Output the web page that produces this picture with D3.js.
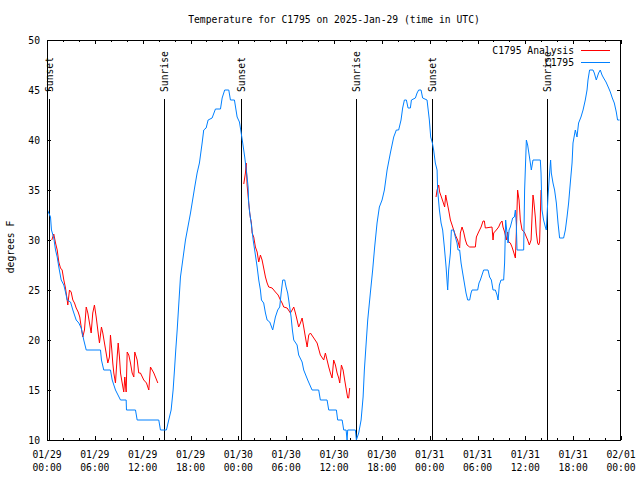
<!DOCTYPE html>
<html><head><meta charset="utf-8">
<script src="https://cdn.jsdelivr.net/npm/d3@7"></script>
<style>
html,body{margin:0;padding:0;background:#fff;}
svg{display:block;}
text{font-family:"DejaVu Sans Mono","Liberation Mono",monospace;font-size:9.7px;fill:#000;}
</style></head>
<body><svg id="c" width="640" height="480"></svg>
<script>
// Hours since 2025-01-29 00:00 UTC, temperature in degrees F
const obsHours = [0.06,0.44,0.56,0.85,1.07,1.28,1.48,1.78,2.11,2.32,2.53,2.95,3.24,3.66,3.99,4.29,4.61,4.92,6.71,6.83,7.12,7.96,8.18,8.59,9.22,9.93,9.97,11.1,11.31,14.02,14.23,14.98,15.27,15.57,15.82,15.99,16.15,16.33,16.74,17.37,18.0,18.53,18.83,19.12,19.46,19.66,19.96,20.21,20.71,21.13,21.76,21.97,22.29,22.8,23.01,23.51,23.85,24.14,24.3,24.55,24.8,25.1,25.23,25.3,25.43,25.64,25.86,26.14,26.36,26.56,26.77,26.9,27.18,27.4,27.61,27.94,28.31,28.65,28.94,29.19,29.37,29.57,29.82,29.99,30.19,30.32,30.62,30.78,30.95,31.37,31.57,32.0,32.2,32.7,33.25,34.08,34.29,35.13,35.34,36.3,36.46,37.02,37.22,37.52,37.64,37.72,38.68,38.81,39.1,39.4,39.65,39.81,40.06,40.23,40.56,40.85,41.1,41.4,41.69,42.03,42.32,42.66,43.07,43.49,43.82,44.11,44.41,44.61,44.83,45.08,45.29,45.58,45.71,46.21,46.42,46.62,46.92,47.12,47.67,47.96,48.13,48.34,48.5,48.71,48.93,49.0,49.22,49.43,49.63,49.84,50.06,50.26,50.38,50.6,50.72,51.01,51.22,51.43,51.56,51.76,51.94,52.14,52.35,52.56,52.77,53.02,53.19,53.32,54.02,54.19,54.36,54.77,55.32,55.52,55.74,55.95,56.24,56.45,56.58,56.74,56.95,57.28,57.4,57.53,57.7,57.83,57.96,58.12,58.41,58.62,58.75,58.87,58.96,59.79,59.91,60.13,60.29,60.63,60.75,60.96,61.88,61.97,62.09,62.29,62.51,62.63,62.76,62.84,63.01,63.17,63.26,63.47,63.67,63.89,64.1,64.3,64.8,65.02,65.23,65.43,65.64,65.86,65.98,66.27,66.48,66.68,66.98,67.24,67.52,67.74,67.86,68.06,68.49,68.65,68.9,69.19,69.4,69.62,69.82,70.12,70.45,70.66,70.91,71.16,71.41,71.57,71.82];
const obsTemps = [33,32.3,31,30.2,29,28.3,27.3,26,25.5,24.8,24,23.8,23,22,21.7,21.2,20,19,19,18,17,17,16,15,14,14,13,13,12,12,11,11,12,13,15,17,19,21,26.3,30,32.7,35.3,36.7,37.7,39.7,41,41.2,42,42.2,43.1,43.1,44.2,45,45,44,44,42.3,41.8,41,39.7,38.3,36.3,35.3,33.7,32.7,31.5,30,28.5,27.3,26,25,24,23.7,22.7,22,21.8,21,22.3,23,23.3,24.7,26,26,25.3,24.7,24,22.3,21,20,19.5,18.5,17.8,17,16,15,15,14,14,13,13,12,12,11,11,10,11,11,10,10.7,12,14.3,17,20,22,24.7,27,29.3,31.7,33.3,34,35,37,38.7,40.3,41,41,42,43.2,44,44,43.2,43.2,44,44.2,44.7,45,45,44.2,44,42,40.3,39.7,39,37.7,37,35,33,31.7,31,29.3,27.3,25,27,28.7,31,31,30.3,29.7,29,29,27.7,26.7,25.7,24.7,24,24,24.7,25,25,25.7,26,27,27,26.3,26,25,25,24.5,24,25.5,26,26,27.7,32,30.7,29.7,31,31.3,32.2,32.3,33,31.5,29,29,35,40,39.5,37.7,37,38,38,36.7,33,32,31.3,31,33,34.3,36.3,38,36.7,35.7,35,33.7,31.7,30.2,30.2,31,32.3,33.7,35.7,37.7,39.7,41,40.3,41.7,42.3,43,44,45,46,47,47,46.7,46,46.7,47,46.5,46.2,45.8,45.2,44.8,44.2,43.7,42.8,42,42];

const anaHours1 = [0.6,0.85,1.07,1.28,1.48,1.69,1.9,2.11,2.32,2.53,2.61,2.82,3.03,3.24,3.45,3.66,3.91,4.11,4.29,4.49,4.7,4.92,5.12,5.33,5.54,5.74,5.95,6.17,6.37,6.58,6.83,7.0,7.21,7.42,7.63,7.83,7.96,8.13,8.25,8.38,8.59,8.8,8.93,9.09,9.22,9.43,9.63,9.76,9.93,10.06,10.26,10.47,10.68,10.89,11.01,11.31,11.51,11.72,12.14,12.48,12.77,12.98,13.19,13.4,13.9];
const anaTemps1 = [30,30.6,29.7,29,27.8,27.2,27,26,25.2,24,23.5,25,24.8,24,23.7,23.2,22.8,22.3,21.3,20.3,21,23.3,22.7,21.7,20.7,22.7,23.5,22.3,21,19.7,21.3,20.7,19.7,18.7,17.7,18.3,20.5,19,17.7,16.7,15.7,18.3,19.7,18.3,16.7,15.7,14.8,16.3,14.8,18.8,18.5,17.7,16.7,16.3,18.8,18,16.7,16.7,16,15.7,15,17.3,17,16.7,15.7];
const anaHours2 = [24.68,24.89,24.98,25.1,25.27,25.43,25.52,25.64,25.73,25.93,26.14,26.36,26.56,26.77,26.98,27.18,27.4,27.61,27.81,28.24,28.65,28.99,29.28,29.49,29.69,30.12,30.53,30.75,30.95,31.16,31.37,31.57,31.79,32.0,32.2,32.41,32.63,32.83,33.04,33.46,33.88,34.29,34.71,34.92,35.13,35.34,35.55,35.76,35.96,36.18,36.39,36.59,36.72,36.93,37.14,37.34,37.55,37.72,37.84,37.97];
const anaTemps2 = [35.6,36.7,37.7,35.5,34,32.7,32.2,31.7,30.7,30.3,29.3,28.8,27.8,28.5,28,27.2,26.3,25.7,25.3,25.2,24.8,24.5,24,23.7,23.3,23.2,22.7,23,23.3,22.7,22,21.3,21.7,22.2,21.3,20.3,19.3,20.5,20.7,20.2,19.7,18.5,18,18.7,18,17.3,16.7,16.2,18,17.5,16.7,16.2,15.7,17.5,17,16,15,14.2,14.2,15.2];
const anaHours3 = [48.8,48.93,49.13,49.25,49.47,49.68,49.88,50.01,50.18,50.38,50.6,50.81,51.01,51.22,51.51,51.76,51.85,52.06,52.26,52.48,52.69,53.02,53.73,53.86,54.14,54.45,54.7,54.86,54.98,55.82,55.95,56.03,56.36,56.65,56.87,57.08,57.2,57.4,57.62,57.78,57.91,58.12,58.33,58.53,58.75,58.87,59.03,59.21,59.37,59.59,59.87,60.13,60.29,60.5,60.72,60.84,60.96,61.05,61.25,61.38,61.54,61.67,61.79,61.97];
const anaTemps3 = [34.3,35,35.5,34.8,34.3,33.8,33.3,34.5,33.8,33,32,31.5,31,30.5,30,29.2,30.7,31.3,30.8,30,29.5,29.3,29.3,30.3,30.8,31.3,31.9,31.9,31.2,31.3,30,30.7,31,31.3,31.7,31.9,31.3,30.8,30,30.8,29.8,29.7,29.3,28.8,28.2,30.7,35,34,32,31,30.8,30.3,30,29.5,30,32.3,34.5,34,32.3,30.7,29.7,29.5,29.8,35];

const sunLabels = ["Sunset","Sunrise","Sunset","Sunrise","Sunset","Sunrise"];
const sunHours = [0.19,14.65,24.34,38.74,48.28,62.7];

const yTicks = [10,15,20,25,30,35,40,45,50];
const titleText = "Temperature for C1795 on 2025-Jan-29 (time in UTC)";
const yLabel = "degrees F";
const seriesNames = ["C1795 Analysis","C1795"];
const seriesColors = ["#ff0000","#0080ff"];

const t0 = Date.UTC(2025,0,29);
const toDate = h => new Date(t0 + h*3600000);

const svg = d3.select("#c");
const L=47, R=621, T=40, B=440;
const x = d3.scaleUtc().domain([toDate(0), toDate(72)]).range([L,R]);
const y = d3.scaleLinear().domain([10,50]).range([B,T]);

// title
svg.append("text").attr("x",(L+R)/2).attr("y",23).attr("text-anchor","middle").text(titleText);
// y label
svg.append("text").attr("transform",`translate(14,247) rotate(-90)`).attr("text-anchor","middle").text(yLabel);

const g = svg.append("g");
const majors = d3.utcHour.every(6).range(toDate(0), toDate(72.01));
const minors = d3.utcHour.every(2).range(toDate(0), toDate(72.01));
// x ticks bottom/top
minors.forEach(d=>{
  const xx = Math.round(x(d))+0.5;
  const isMaj = d.getUTCHours()%6===0;
  const len = isMaj?4:2;
  g.append("line").attr("x1",xx).attr("x2",xx).attr("y1",B).attr("y2",B-len).attr("stroke","#000");
  g.append("line").attr("x1",xx).attr("x2",xx).attr("y1",T).attr("y2",T+len).attr("stroke","#000");
});
const fmtD = d3.utcFormat("%m/%d"), fmtT = d3.utcFormat("%H:%M");
majors.forEach(d=>{
  const xx = x(d);
  svg.append("text").attr("x",xx).attr("y",458).attr("text-anchor","middle").text(fmtD(d));
  svg.append("text").attr("x",xx).attr("y",471).attr("text-anchor","middle").text(fmtT(d));
});
yTicks.forEach(v=>{
  const yy = Math.round(y(v))+0.5;
  g.append("line").attr("x1",L).attr("x2",L+4).attr("y1",yy).attr("y2",yy).attr("stroke","#000");
  g.append("line").attr("x1",R).attr("x2",R-4).attr("y1",yy).attr("y2",yy).attr("stroke","#000");
  svg.append("text").attr("x",40).attr("y",y(v)+3.5).attr("text-anchor","end").text(v);
});

// sunrise/sunset lines
sunHours.forEach((h,i)=>{
  const xx = Math.round(x(toDate(h)))+0.5;
  svg.append("line").attr("x1",xx).attr("x2",xx).attr("y1",99).attr("y2",B).attr("stroke","#000");
  svg.append("text").attr("transform",`translate(${xx+3.5},92) rotate(-90)`).attr("text-anchor","start").text(sunLabels[i]);
});

const line = d3.line().x(d=>x(toDate(d[0]))).y(d=>y(d[1]));
const clip = svg.append("clipPath").attr("id","pc").append("rect").attr("x",L).attr("y",T).attr("width",R-L).attr("height",B-T);
const plot = svg.append("g").attr("clip-path","url(#pc)");

[[anaHours1,anaTemps1],[anaHours2,anaTemps2],[anaHours3,anaTemps3]].forEach(([hs,ts])=>{
  plot.append("path").datum(hs.map((h,i)=>[h,ts[i]])).attr("d",line).attr("fill","none").attr("stroke",seriesColors[0]).attr("stroke-width",1);
});
plot.append("path").datum(obsHours.map((h,i)=>[h,obsTemps[i]])).attr("d",line).attr("fill","none").attr("stroke",seriesColors[1]).attr("stroke-width",1);

// border
svg.append("rect").attr("x",L+0.5).attr("y",T+0.5).attr("width",R-L-1).attr("height",B-T).attr("fill","none").attr("stroke","#000");

// legend
seriesNames.forEach((n,i)=>{
  const yy = 50 + i*12;
  svg.append("text").attr("x",574).attr("y",yy+3.5).attr("text-anchor","end").text(n);
  svg.append("line").attr("x1",581).attr("x2",610).attr("y1",yy+0.5).attr("y2",yy+0.5).attr("stroke",seriesColors[i]);
});
</script></body></html>
